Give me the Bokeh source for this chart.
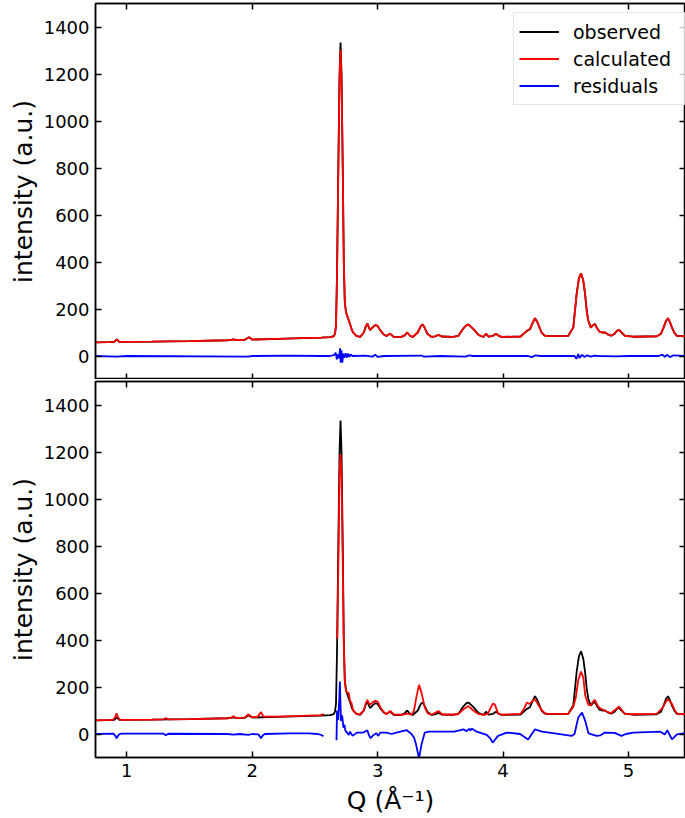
import numpy as np
from bokeh.plotting import figure
from bokeh.models import Range1d, FixedTicker, LinearAxis, Legend, LegendItem, CustomJSTickFormatter
from bokeh.layouts import column
from bokeh.embed import file_html
from bokeh.resources import INLINE

# ---------------- data ----------------
q_obs = [0.75, 0.85, 0.90, 0.92, 0.94, 1.2, 1.5, 1.8, 1.83, 1.85, 1.87, 1.94, 1.975, 2.0, 2.2, 2.4,
         2.55, 2.62, 2.65, 2.66, 2.668, 2.676, 2.686, 2.696, 2.704, 2.712, 2.722, 2.730, 2.738, 2.748,
         2.757, 2.77, 2.78, 2.795, 2.805, 2.83, 2.86, 2.89, 2.905, 2.918, 2.93, 2.94, 2.96, 2.98, 3.0,
         3.02, 3.046, 3.07, 3.098, 3.13, 3.18, 3.21, 3.236, 3.26, 3.28, 3.32, 3.345, 3.359, 3.375,
         3.396, 3.43, 3.46, 3.484, 3.51, 3.6, 3.644, 3.684, 3.71, 3.724, 3.745, 3.764, 3.804, 3.844,
         3.864, 3.885, 3.92, 3.944, 3.965, 3.99, 4.14, 4.19, 4.215, 4.235, 4.255, 4.27, 4.28, 4.307,
         4.33, 4.347, 4.52, 4.56, 4.587, 4.605, 4.622, 4.64, 4.654, 4.668, 4.68, 4.70, 4.72, 4.734,
         4.75, 4.768, 4.79, 4.814, 4.835, 4.862, 4.89, 4.91, 4.925, 4.945, 4.973, 5.04, 5.226, 5.26,
         5.28, 5.30, 5.315, 5.33, 5.347, 5.367, 5.387, 5.453]
obs = [58, 59, 60, 71, 60, 61, 63, 67, 69, 71, 68, 69, 80, 70, 73, 76,
       78, 80, 85, 95, 130, 350, 790, 1200, 1334, 1200, 790, 400, 230, 185,
       171, 150, 136, 110, 100, 86, 81, 100, 125, 138, 122, 110, 122, 131, 128,
       110, 93, 85, 95, 81, 80, 86, 100, 85, 81, 100, 128, 134, 120,
       95, 81, 84, 90, 83, 81, 86, 118, 132, 134, 124, 114, 90, 81,
       95, 82, 86, 95, 86, 81, 83, 107, 114, 140, 161, 148, 136, 100,
       88, 85, 86, 121, 264, 330, 352, 320, 264, 190, 150, 121, 132, 136,
       118, 104, 100, 100, 92, 86, 95, 108, 111, 100, 86, 82, 84, 95,
       121, 150, 161, 145, 121, 98, 86, 84]
calc_top = [58, 59, 60, 71, 60, 61, 63, 67, 69, 71, 68, 69, 80, 70, 73, 76,
            78, 80, 84, 95, 128, 340, 770, 1170, 1303, 1180, 780, 400, 232, 186,
            172, 152, 136, 110, 100, 86, 81, 100, 125, 138, 122, 110, 122, 131, 128,
            110, 93, 85, 95, 81, 80, 86, 100, 85, 81, 100, 128, 134, 120,
            95, 81, 84, 90, 83, 81, 86, 118, 132, 134, 124, 114, 90, 81,
            95, 82, 86, 95, 86, 81, 83, 107, 114, 140, 161, 148, 136, 100,
            88, 85, 86, 121, 264, 330, 352, 320, 264, 190, 150, 121, 132, 136,
            118, 104, 100, 100, 92, 86, 95, 108, 111, 100, 86, 82, 84, 95,
            121, 150, 161, 145, 121, 98, 86, 84]

q_res_top = [0.75, 0.92, 1.0, 1.97, 2.0, 2.3, 2.55, 2.62, 2.655, 2.665, 2.675, 2.685, 2.693, 2.70,
             2.705, 2.712, 2.718, 2.726, 2.735, 2.745, 2.755, 2.765, 2.775, 2.785, 2.80, 2.9, 2.96,
             2.98, 3.0, 3.05, 3.35, 3.37, 3.5, 3.7, 3.73, 3.76, 4.2, 4.23, 4.26, 4.3, 4.57, 4.585,
             4.6, 4.61, 4.63, 4.65, 4.67, 4.7, 4.73, 4.76, 4.9, 5.0, 5.24, 5.27, 5.29, 5.31, 5.33,
             5.36, 5.453]
res_top = [0, -3, 0, -3, 0, 2, 0, 0, 5, 14, -14, 8, -10, 33,
           -28, 24, -28, 10, -8, 12, -6, 10, -4, 6, 0, 2, -3,
           6, -4, 0, 2, -3, 0, -3, 3, 0, 0, -5, 3, 0, 0, -12,
           8, -8, 5, -4, 3, -3, 2, 0, -2, 0, 0, 6, -3, 5, -5,
           3, 0]

q_calc_bot = [0.75, 0.89, 0.905, 0.918, 0.93, 0.95, 1.2, 1.29, 1.31, 1.33, 1.5, 1.8, 1.83, 1.85, 1.87,
              1.94, 1.97, 1.99, 2.04, 2.07, 2.09, 2.2, 2.4, 2.54, 2.56, 2.57, 2.6,
              2.678, 2.686, 2.696, 2.703, 2.712, 2.722, 2.73, 2.738, 2.748, 2.757,
              2.77, 2.78, 2.79, 2.805,
              2.83, 2.86, 2.89, 2.905, 2.918, 2.93, 2.944, 2.96, 2.98, 3.0, 3.02, 3.046, 3.07, 3.1,
              3.13, 3.2, 3.236, 3.27, 3.29, 3.31, 3.33, 3.35, 3.376, 3.40, 3.43, 3.484, 3.52, 3.64,
              3.684, 3.724, 3.76, 3.80, 3.85, 3.88, 3.90, 3.92, 3.935, 3.96, 3.99, 4.14, 4.17, 4.19,
              4.21, 4.235, 4.25, 4.27, 4.30, 4.33, 4.35, 4.52, 4.56, 4.58, 4.60, 4.622, 4.64, 4.656,
              4.68, 4.70, 4.72, 4.734, 4.75, 4.77, 4.81, 4.86, 4.90, 4.925, 4.95, 4.97, 5.04, 5.226,
              5.27, 5.31, 5.33, 5.35, 5.37, 5.39, 5.453]
calc_bot = [58, 60, 70, 88, 70, 60, 61, 62, 68, 62, 63, 67, 69, 75, 68,
            70, 84, 72, 72, 93, 74, 74, 77, 80, 82, 86, None,
            405, 700, 1100, 1191, 1100, 720, 380, 220, 185, 176,
            175, 140, 134, 100,
            87, 84, 100, 130, 145, 130, 126, 135, 141, 138, 115, 95, 84, 98,
            83, 82, 87, 82, 100, 160, 209, 176, 112, 88, 82, 98, 82, 84,
            105, 119, 101, 86, 81, 88, 110, 130, 125, 88, 82, 86, 110, 134,
            128, 140, 148, 135, 107, 90, 86, 86, 115, 155, 230, 266, 240, 162,
            125, 122, 140, 144, 125, 110, 100, 88, 105, 117, 100, 86, 84, 86,
            110, 148, 140, 125, 100, 86, 84]

q_res_bot = [0.75, 0.89, 0.905, 0.918, 0.935, 0.96, 1.29, 1.31, 1.33, 1.8, 1.85, 1.9, 1.97, 2.0, 2.05,
             2.07, 2.085, 2.1, 2.3, 2.45, 2.52, 2.55, 2.568, 2.6,
             2.672, 2.676, 2.686, 2.694, 2.699, 2.704, 2.708, 2.714, 2.72, 2.727, 2.735, 2.742, 2.75,
             2.77, 2.78, 2.80, 2.834, 2.886, 2.918, 2.93, 2.944, 2.965, 2.98, 2.99, 3.005, 3.02, 3.07,
             3.11, 3.15, 3.23, 3.27, 3.29, 3.306, 3.33, 3.35, 3.376, 3.41, 3.61, 3.684, 3.71, 3.73,
             3.74, 3.75, 3.79, 3.87, 3.90, 3.917, 3.96, 4.03, 4.136, 4.2, 4.255, 4.31, 4.37, 4.547,
             4.57, 4.60, 4.63, 4.656, 4.68, 4.707, 4.747, 4.775, 4.81, 4.89, 4.944, 4.98, 5.04, 5.256,
             5.29, 5.31, 5.347, 5.387, 5.453]
res_bot = [0, 2, -5, -18, -3, 2, 2, -5, 1, 0, -3, 0, -4, 0, -2,
           -18, -5, 0, 3, 3, 0, -4, -10, None,
           -27, 100, 60, 150, 223, 120, 55, 80, 65, 27, 40, 15, 10,
           -4, 10, -8, 6, 6, 16, -5, -18, -5, 0, 3, -8, 6, 6,
           0, 6, 17, 0, -15, -44, -104, -44, 6, 10, 10, 20, 12, 22,
           15, 23, 10, -4, -20, -37, -8, 6, 0, -23, 20, 10, 6, -8,
           0, 70, 91, 55, 4, -2, -8, -6, 6, 5, -8, 0, 6, 10,
           -2, 16, -23, -2, 4]

y_ticks = [0, 200, 400, 600, 800, 1000, 1200, 1400]
x_ticks = [1, 2, 3, 4, 5]
labels = ["observed", "calculated", "residuals"]


def nanify(v):
    return [np.nan if a is None else a for a in v]


FONT = "DejaVu Sans"
LW = 1.8
x_range = Range1d(0.75, 5.455)


def style_axis(ax, show_labels):
    ax.major_tick_in = 6
    ax.major_tick_out = 0
    ax.minor_tick_in = 0
    ax.minor_tick_out = 0
    ax.major_tick_line_width = 1.5
    ax.major_tick_line_color = "black"
    ax.axis_line_width = 1.5
    ax.axis_line_color = "black"
    ax.major_label_text_font = FONT
    ax.major_label_text_color = "black"
    if show_labels:
        ax.major_label_text_font_size = "18px"
        ax.major_label_standoff = 6
    else:
        ax.formatter = CustomJSTickFormatter(code="return ''")
        ax.major_label_text_font_size = "1px"
        ax.major_label_standoff = 0


def make_panel(height, top_border, bottom_border, show_x):
    p = figure(width=685, height=height, x_range=x_range, y_range=Range1d(-100, 1500),
               output_backend="svg", toolbar_location=None,
               min_border_left=95, min_border_right=0,
               min_border_top=top_border, min_border_bottom=bottom_border)
    p.grid.visible = False
    p.outline_line_color = "black"
    p.outline_line_width = 1.5
    p.background_fill_color = "white"
    p.border_fill_color = "white"
    bottom_ax = p.below[0]
    left_ax = p.left[0]
    bottom_ax.ticker = FixedTicker(ticks=x_ticks)
    left_ax.ticker = FixedTicker(ticks=y_ticks)
    style_axis(bottom_ax, show_x)
    style_axis(left_ax, True)
    left_ax.axis_label = "intensity (a.u.)"
    left_ax.axis_label_text_font = FONT
    left_ax.axis_label_text_font_size = "25px"
    left_ax.axis_label_text_font_style = "normal"
    left_ax.axis_label_text_color = "black"
    left_ax.axis_label_standoff = 3
    right = LinearAxis(ticker=FixedTicker(ticks=y_ticks))
    style_axis(right, False)
    p.add_layout(right, "right")
    top = LinearAxis(ticker=FixedTicker(ticks=x_ticks))
    style_axis(top, False)
    p.add_layout(top, "above")
    return p, bottom_ax


p1, _ = make_panel(379, 3, 0, False)
r_obs1 = p1.line(q_obs, obs, color="black", line_width=LW)
r_calc1 = p1.line(q_obs, calc_top, color="red", line_width=LW)
r_res1 = p1.line(q_res_top, res_top, color="blue", line_width=LW)

legend = Legend(items=[LegendItem(label=labels[0], renderers=[r_obs1]),
                       LegendItem(label=labels[1], renderers=[r_calc1]),
                       LegendItem(label=labels[2], renderers=[r_res1])],
                location=(418, 374 - 9 - 91))
legend.label_text_font = FONT
legend.label_text_font_size = "19px"
legend.label_text_color = "black"
legend.padding = 5
legend.spacing = 0
legend.label_height = 27
legend.glyph_height = 27
legend.glyph_width = 40
legend.label_standoff = 14
legend.label_width = 106
legend.margin = 0
legend.border_line_color = "#cccccc"
legend.border_line_width = 1
legend.background_fill_alpha = 0.8
p1.add_layout(legend, "center")

p2, xb = make_panel(439, 2, 61, True)
xb.axis_label = "Q (Å⁻¹)"
xb.axis_label_text_font = FONT
xb.axis_label_text_font_size = "25px"
xb.axis_label_text_font_style = "normal"
xb.axis_label_text_color = "black"
xb.axis_label_standoff = 6
p2.line(q_obs, obs, color="black", line_width=LW)
p2.line(q_calc_bot, nanify(calc_bot), color="red", line_width=LW)
p2.line(q_res_bot, nanify(res_bot), color="blue", line_width=LW)

layout = column(p1, p2, spacing=0)
open("out.html", "w").write(file_html(layout, INLINE))
